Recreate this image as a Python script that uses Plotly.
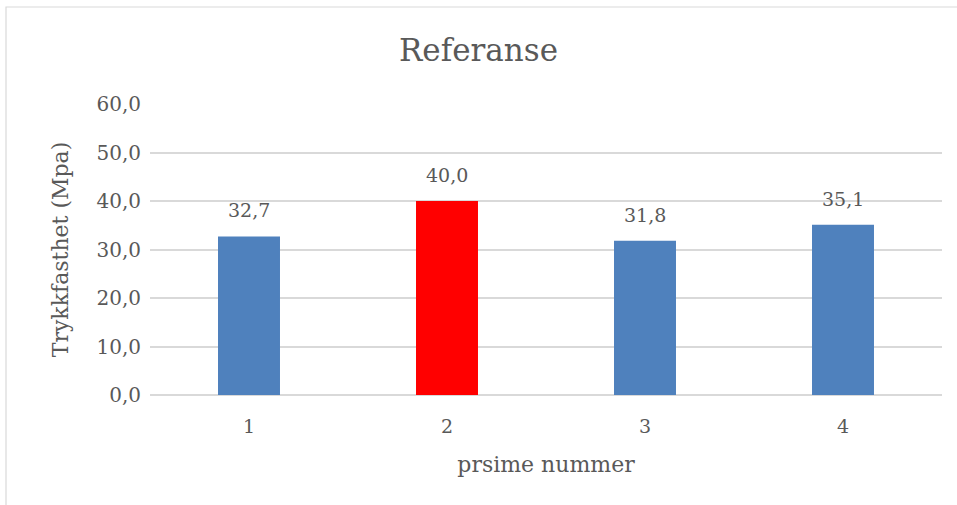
import plotly.graph_objects as go

# Compressive strength per prism
categories = ["1", "2", "3", "4"]
values = [32.7, 40.0, 31.8, 35.1]
bar_colors = ["#4F81BD", "#FF0000", "#4F81BD", "#4F81BD"]
y_ticks = [0, 10, 20, 30, 40, 50, 60]

FONT = "DejaVu Serif"
TEXT = "#595959"

fig = go.Figure(
    go.Bar(
        x=categories,
        y=values,
        marker=dict(color=bar_colors, line=dict(width=0)),
        hoverinfo="x+y",
    )
)

# Value labels above each bar (category axis positions are indices)
for i, v in enumerate(values):
    fig.add_annotation(
        x=i, y=v, xref="x", yref="y",
        text=f"{v:.1f}".replace(".", ","),
        showarrow=False, yshift=26, yanchor="middle",
        font=dict(family=FONT, size=19, color=TEXT),
    )

fig.update_layout(
    width=957,
    height=505,
    margin=dict(l=150, r=15, t=104, b=110),
    paper_bgcolor="white",
    plot_bgcolor="white",
    separators=",.",
    bargap=0.687,
    showlegend=False,
    title=dict(
        text="Referanse",
        font=dict(family=FONT, size=31, color=TEXT),
        x=0.5, xanchor="center",
        y=1 - 50 / 505, yanchor="middle",
    ),
    font=dict(family=FONT, color=TEXT),
    xaxis=dict(
        type="category",
        showgrid=False,
        showline=False,
        ticks="",
        ticklabelstandoff=18,
        tickfont=dict(family=FONT, size=19, color=TEXT),
        title=dict(text="prsime nummer", font=dict(family=FONT, size=22, color=TEXT), standoff=20),
    ),
    yaxis=dict(
        range=[0, 60],
        tickvals=y_ticks,
        tickformat=".1f",
        showgrid=True,
        gridcolor="#D9D9D9",
        gridwidth=1.5,
        zeroline=True,
        zerolinecolor="#D9D9D9",
        zerolinewidth=1.5,
        showline=False,
        ticks="",
        ticklabelstandoff=8,
        tickfont=dict(family=FONT, size=20, color=TEXT),
        title=dict(text="Trykkfasthet (Mpa)", font=dict(family=FONT, size=22, color=TEXT), standoff=21),
    ),
    shapes=[
        dict(
            type="rect", xref="paper", yref="paper",
            x0=(6 - 150) / 792, x1=(962 - 150) / 792,
            y0=-0.5, y1=(395 - 7) / 291,
            line=dict(color="#D9D9D9", width=1.2),
            fillcolor="rgba(0,0,0,0)",
            layer="below",
        )
    ],
)

fig.write_html("out.html")
